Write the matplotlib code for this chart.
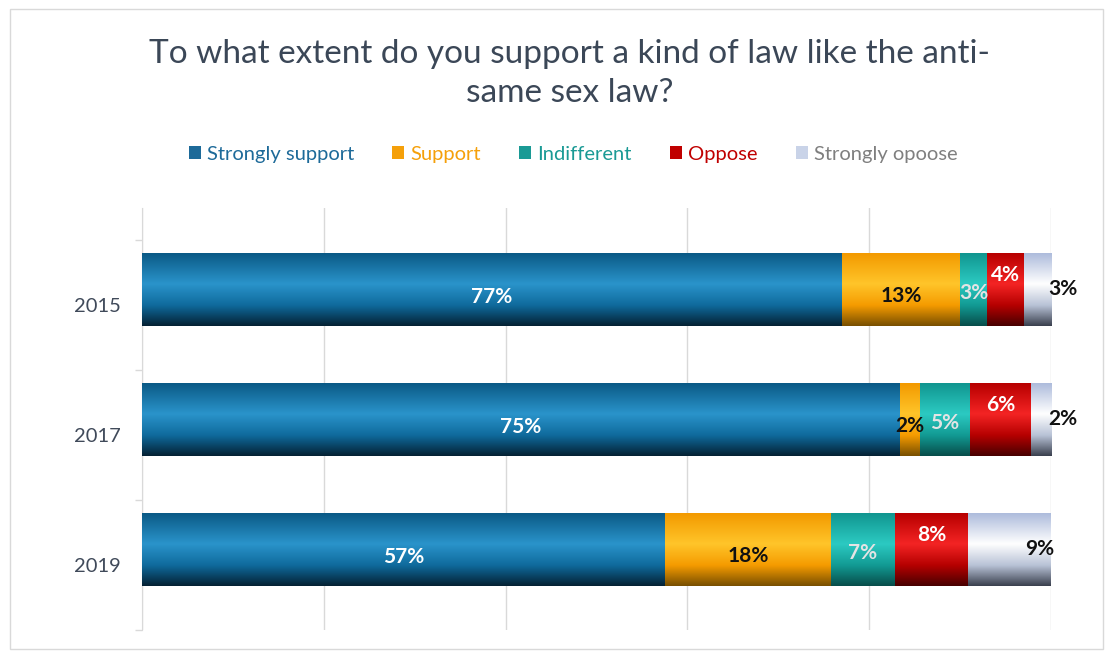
import numpy as np
import matplotlib as mpl
mpl.use("Agg")
import matplotlib.pyplot as plt
from matplotlib.colors import to_rgb
from matplotlib.patches import Rectangle

# data (raw survey values, shown as 100% stacked)
years = ["2015", "2017", "2019"]
series = ["Strongly support", "Support", "Indifferent", "Oppose", "Strongly opoose"]
strongly_support = [77, 75, 57]
support = [13, 2, 18]
indifferent = [3, 5, 7]
oppose = [4, 6, 8]
strongly_oppose = [3, 2, 9]
values = [strongly_support, support, indifferent, oppose, strongly_oppose]

# gradient stops per series: top, highlight, middle, bottom
grads = [
    ["#0b5a86", "#2a94cb", "#0f6a9c", "#052235"],
    ["#f39a00", "#ffc52a", "#f59b00", "#7a5000"],
    ["#119690", "#2ccac2", "#129a93", "#084e4b"],
    ["#b80000", "#f42424", "#b50000", "#4a0000"],
    ["#aebcdc", "#ffffff", "#b8c2d6", "#3c4250"],
]
legend_marker = ["#1d6a99", "#f5a00a", "#1a9a95", "#c00000", "#c9d3e8"]
legend_text = ["#1d6a99", "#f5a00a", "#1a9a95", "#c00000", "#7f7f7f"]
label_color = ["white", "#111111", "#e4e4e4", "white", "#111111"]
label_dy = [0.058, 0.05, 0.03, -0.11, 0.0]

plt.rcParams['font.family'] = ['Lato', 'DejaVu Sans']

fig = plt.figure(figsize=(11.13, 6.57), dpi=100)
fig.patches.append(Rectangle((0.009, 0.012), 0.982, 0.974, transform=fig.transFigure,
                             fill=False, edgecolor="#d9d9d9", linewidth=1.0))
ax = fig.add_axes([0.1276, 0.0411, 0.8167, 0.6423])


def grad_img(stops, n=64):
    pos = [0.0, 0.42, 0.72, 1.0]
    cols = np.array([to_rgb(c) for c in stops])
    t = np.linspace(0, 1, n)
    img = np.stack([np.interp(t, pos, cols[:, k]) for k in range(3)], axis=1)
    return img[:, None, :]


raw = np.array(values, dtype=float)
totals = raw.sum(axis=0)
shares = raw / totals * 100
y = np.arange(len(years))
h = 0.56
left = np.zeros(len(years))
for i, name in enumerate(series):
    bars = ax.barh(y, shares[i], left=left, height=h, color=legend_marker[i],
                   label=name, zorder=2)
    img = grad_img(grads[i])
    for j, b in enumerate(bars):
        x0 = b.get_x()
        x1 = x0 + b.get_width()
        ax.imshow(img, extent=(x0, x1, y[j] + h / 2, y[j] - h / 2), origin="upper",
                  aspect="auto", interpolation="bilinear", zorder=3)
        xc = x0 + (x1 - x0) / 2
        if i == 4:
            xc = min(xc + 3.3, 101.3)
        ax.text(xc, y[j] + label_dy[i], f"{int(raw[i, j])}%", ha="center",
                va="center", fontsize=15, fontweight="bold", color=label_color[i],
                zorder=5)
    left += shares[i]

ax.set_xlim(0, 100)
ax.set_ylim(2.62, -0.627)
ax.set_xticks(np.arange(0, 101, 20))
ax.tick_params(axis="x", length=0, labelbottom=False)
# year labels sit a little below the bar centres in the original
ax.set_yticks(y + 0.12)
ax.set_yticklabels(years, fontsize=14.5, color="#404a5a")
ax.tick_params(axis="y", which="major", length=0, pad=15)
ax.set_yticks([-0.38, 0.62, 1.62, 2.62], minor=True)
ax.tick_params(axis="y", which="minor", length=5, color="#d9d9d9", width=1)
ax.grid(axis="x", color="#d9d9d9", linewidth=1, zorder=0)
for s in ["top", "right", "bottom"]:
    ax.spines[s].set_visible(False)
ax.spines["left"].set_color("#d9d9d9")
ax.set_axisbelow(True)

fig.text(0.512, 0.888, "To what extent do you support a kind of law like the anti-\nsame sex law?",
         ha="center", va="center", fontsize=24, color="#3b4757", linespacing=1.4)

handles, labels = ax.get_legend_handles_labels()
leg = fig.legend(handles, labels, loc="center", bbox_to_anchor=(0.515, 0.765), ncol=5,
                 frameon=False, fontsize=14.5, handlelength=0.6, handleheight=0.6,
                 handletextpad=0.3, columnspacing=1.9, labelcolor=legend_text)

fig.savefig("out.png", dpi=100)
